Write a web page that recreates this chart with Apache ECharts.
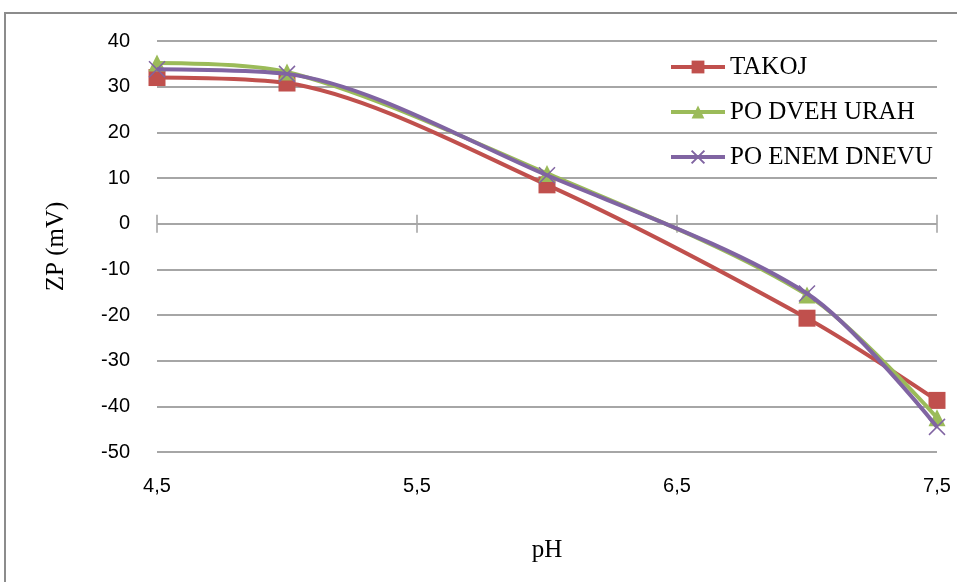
<!DOCTYPE html>
<html><head><meta charset="utf-8">
<script src="https://cdn.jsdelivr.net/npm/echarts@6/dist/echarts.min.js"></script>
<style>html,body{margin:0;padding:0;background:#fff}#c{width:957px;height:582px}</style>
</head><body><div id="c"></div>
<script>
const phValues = [4.5, 5, 6, 7, 7.5];
const takoj = [32, 30.8, 8.5, -20.7, -38.7];
const poDvehUrah = [35.2, 33.2, 11, -15.6, -42.5];
const poEnemDnevu = [33.8, 32.8, 10.6, -15.3, -44.5];
const seriesNames = ['TAKOJ', 'PO DVEH URAH', 'PO ENEM DNEVU'];
const xTickValues = [4.5, 5.5, 6.5, 7.5];

const pair = arr => phValues.map((x, i) => [x, arr[i]]);
const chart = echarts.init(document.getElementById('c'));
const serif = 'Liberation Serif';
const sans = 'Liberation Sans';
chart.setOption({
  animation: false,
  graphic: [{type: 'rect', shape: {x: 5, y: 13, width: 1000, height: 700},
    style: {fill: 'none', stroke: '#8c8c8c', lineWidth: 2}, z: -10}],
  grid: {left: 157, right: 20, top: 41, bottom: 130, containLabel: false},
  xAxis: {type: 'value', min: 4.5, max: 7.5, interval: 1,
    axisLine: {show: false}, axisTick: {show: false}, splitLine: {show: false},
    axisLabel: {formatter: v => String(v).replace('.', ','), fontFamily: sans, fontSize: 20, color: '#000', margin: 24},
    name: 'pH', nameLocation: 'middle', nameGap: 86,
    nameTextStyle: {fontFamily: serif, fontSize: 25, color: '#000'}},
  yAxis: {type: 'value', min: -50, max: 40, interval: 10,
    axisLine: {show: false}, axisTick: {show: false},
    splitLine: {lineStyle: {color: '#a6a6a6', width: 2}},
    axisLabel: {fontFamily: sans, fontSize: 20, color: '#000', margin: 27},
    name: 'ZP (mV)', nameLocation: 'middle', nameGap: 88,
    nameTextStyle: {fontFamily: serif, fontSize: 25, color: '#000'}},
  legend: {data: seriesNames, orient: 'vertical', left: 664, top: 49, itemGap: 19,
    itemWidth: 54, itemHeight: 16,
    lineStyle: {width: 4},
    textStyle: {fontFamily: serif, fontSize: 25, lineHeight: 26, color: '#000'}},
  series: [
    {name: 'TAKOJ', type: 'line', smooth: 0.3, data: pair(takoj),
      symbol: 'rect', symbolSize: 17, color: '#c0504d', lineStyle: {width: 4}, z: 3},
    {name: 'PO DVEH URAH', type: 'line', smooth: 0.3, data: pair(poDvehUrah),
      symbol: 'triangle', symbolSize: 17, color: '#9bbb59', lineStyle: {width: 4}, z: 4},
    {name: 'PO ENEM DNEVU', type: 'line', smooth: 0.3, data: pair(poEnemDnevu),
      symbol: 'path://M0,0L1,1M1,0L0,1', symbolSize: 16, color: '#8064a2',
      itemStyle: {borderColor: '#8064a2', borderWidth: 1.5}, lineStyle: {width: 4}, z: 5},
    {type: 'scatter', silent: true, data: xTickValues.map(x => [x, 0]),
      symbol: 'rect', symbolSize: [2, 18], itemStyle: {color: '#a6a6a6'}, z: 1}
  ]
});
</script></body></html>
